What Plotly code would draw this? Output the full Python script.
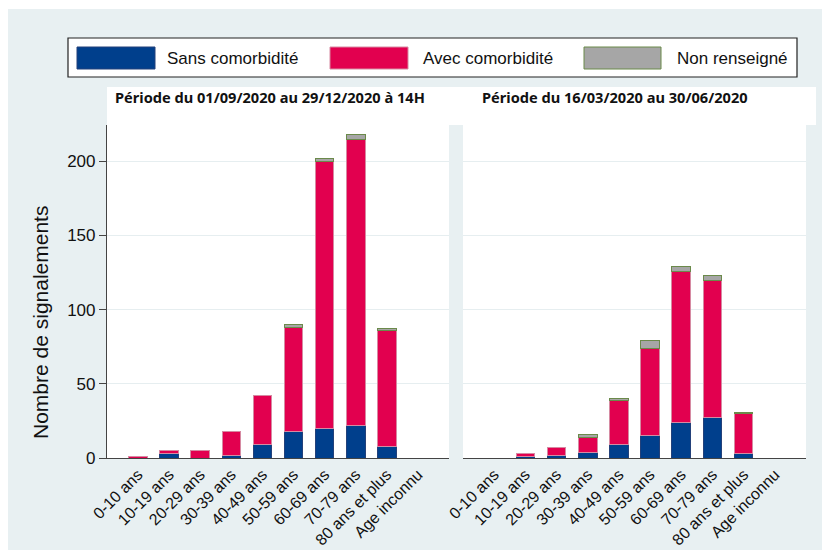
import plotly.graph_objects as go

categories = ["0-10 ans", "10-19 ans", "20-29 ans", "30-39 ans", "40-49 ans",
              "50-59 ans", "60-69 ans", "70-79 ans", "80 ans et plus", "Age inconnu"]

# Période du 01/09/2020 au 29/12/2020 à 14H
p1_sans = [0, 3, 0, 2, 9, 18, 20, 22, 8, 0]
p1_avec = [1, 2, 5, 16, 33, 70, 180, 193, 78, 0]
p1_nr = [0, 0, 0, 0, 0, 2, 2, 3, 1, 0]

# Période du 16/03/2020 au 30/06/2020
p2_sans = [0, 1, 2, 4, 9, 15, 24, 27, 3, 0]
p2_avec = [0, 2, 5, 10, 30, 59, 102, 93, 27, 0]
p2_nr = [0, 0, 0, 2, 1, 5, 3, 3, 1, 0]

series_names = ["Sans comorbidité", "Avec comorbidité", "Non renseigné"]
titles = ["Période du 01/09/2020 au 29/12/2020 à 14H", "Période du 16/03/2020 au 30/06/2020"]
y_title = "Nombre de signalements"
y_ticks = [0, 50, 100, 150, 200]

colors = ["#003f8c", "#e2004f", "#a6a6a6"]
line_colors = ["#23417a", "#d68aa2", "#6b8a4a"]

W, H = 822, 550
L, R, T, B = 107, 806, 125, 458  # plot area in px


def px(x):
    return (x - L) / (R - L)


def py(y):
    return (B - y) / (B - T)


fig = go.Figure()
for panel, (vals, xa, ya) in enumerate([((p1_sans, p1_avec, p1_nr), "x", "y"),
                                         ((p2_sans, p2_avec, p2_nr), "x2", "y2")]):
    for i, v in enumerate(vals):
        fig.add_trace(go.Bar(
            x=categories, y=[val if val else None for val in v], name=series_names[i],
            xaxis=xa, yaxis=ya,
            marker=dict(color=colors[i], line=dict(color=line_colors[i], width=1)),
            width=0.6, showlegend=False,
        ))

ymax = 224.5
axis_common = dict(type="category", range=[-1, 10], tickangle=-45, showgrid=False,
                   showline=True, linecolor="#444", linewidth=1.2, ticks="",
                   tickfont=dict(family="Liberation Sans", size=16, color="#111"),
                   zeroline=False, automargin=False)
sep = px(463)
left_end = px(449)
fig.update_layout(
    width=W, height=H,
    margin=dict(l=L, r=W - R, t=T, b=H - B, pad=0, autoexpand=False),
    paper_bgcolor="#e8f0f2",
    plot_bgcolor="white",
    barmode="stack",
    xaxis=dict(domain=[0, left_end], anchor="y", **axis_common),
    xaxis2=dict(domain=[sep, 1], anchor="y2", **axis_common),
    yaxis=dict(range=[0, ymax], tickvals=y_ticks, showgrid=True, gridcolor="#e6eef0",
               gridwidth=1, showline=True, linecolor="#444", linewidth=1.2,
               ticks="outside", ticklen=7, tickcolor="#444", zeroline=False,
               automargin=False,
               tickfont=dict(family="Liberation Sans", size=17, color="#111")),
    yaxis2=dict(range=[0, ymax], tickvals=y_ticks, showgrid=True, gridcolor="#e6eef0",
                gridwidth=1, showline=False, showticklabels=False, zeroline=False,
                anchor="x2", automargin=False),
    font=dict(family="Liberation Sans"),
)

shapes = []
# white outer strips (top and left)
shapes.append(dict(type="rect", xref="paper", yref="paper", x0=px(-5), x1=px(W + 5),
                   y0=py(9), y1=py(-5), fillcolor="white", line=dict(width=0), layer="above"))
shapes.append(dict(type="rect", xref="paper", yref="paper", x0=px(-5), x1=px(8),
                   y0=py(H + 5), y1=py(-5), fillcolor="white", line=dict(width=0), layer="above"))
# white title band above panels
shapes.append(dict(type="rect", xref="paper", yref="paper", x0=px(107), x1=px(816),
                   y0=py(125), y1=py(87), fillcolor="white", line=dict(width=0), layer="below"))
# legend frame
shapes.append(dict(type="rect", xref="paper", yref="paper", x0=px(68), x1=px(797),
                   y0=py(77), y1=py(38), fillcolor="white", line=dict(color="#222", width=1.2),
                   layer="above"))
swatches = [(77, 155), (330, 408), (584, 661)]
text_x = [165, 421, 675]
annotations = []
for i, (a, b) in enumerate(swatches):
    shapes.append(dict(type="rect", xref="paper", yref="paper", x0=px(a), x1=px(b),
                       y0=py(69), y1=py(47), fillcolor=colors[i],
                       line=dict(color=line_colors[i], width=1), layer="above"))
    annotations.append(dict(xref="paper", yref="paper", x=px(text_x[i]), y=py(58),
                            xanchor="left", yanchor="middle", showarrow=False,
                            text=series_names[i],
                            font=dict(family="Liberation Sans", size=17, color="#111")))
for t, xpos in zip(titles, [113, 480]):
    annotations.append(dict(xref="paper", yref="paper", x=px(xpos), y=py(97),
                            xanchor="left", yanchor="middle", showarrow=False, text="<b>" + t + "</b>",
                            font=dict(family="Noto Sans", size=14.6, color="#111")))
annotations.append(dict(xref="paper", yref="paper", x=px(40), y=py(323), textangle=-90,
                        xanchor="center", yanchor="middle", showarrow=False, text=y_title,
                        font=dict(family="Liberation Sans", size=21, color="#111")))
fig.update_layout(shapes=shapes, annotations=annotations)

fig.write_html("out.html", config={"displayModeBar": False},
               post_script="document.body.style.margin='0px';")
